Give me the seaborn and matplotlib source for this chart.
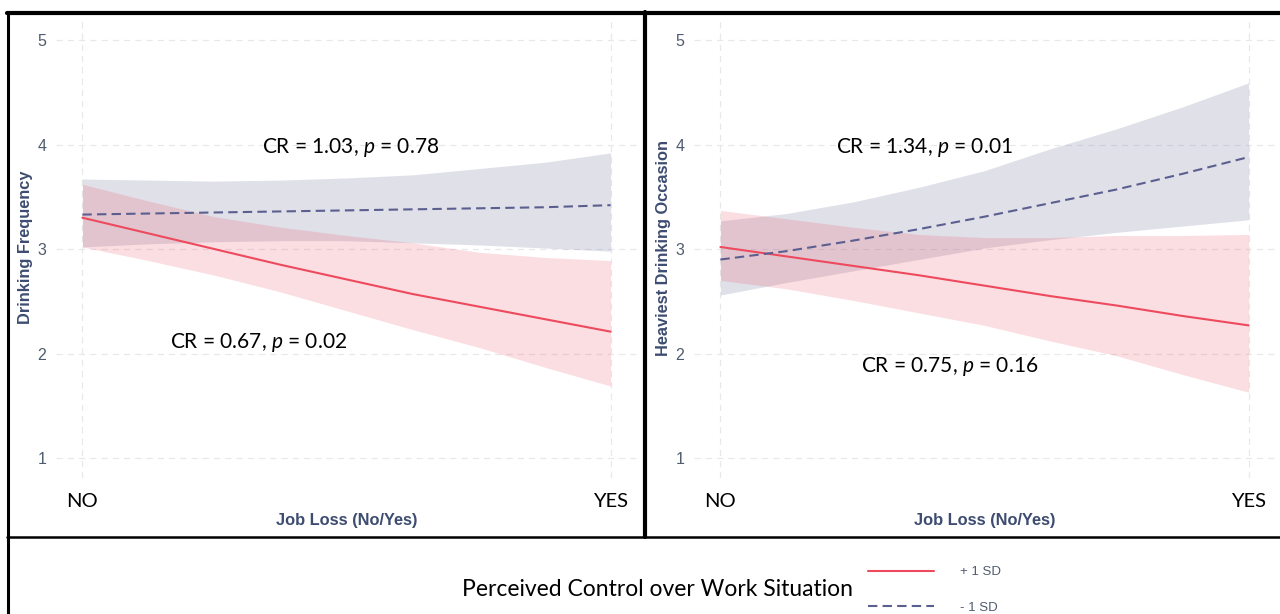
import matplotlib
matplotlib.use("Agg")
import matplotlib.pyplot as plt
from matplotlib.lines import Line2D
import numpy as np
import pandas as pd
import seaborn as sns

# --- data (x: 0 = NO job loss, 1 = YES) ---
job_loss = [0.0, 0.125, 0.25, 0.375, 0.5, 0.625, 0.75, 0.875, 1.0]
x_ticks = [0, 1]
x_ticklabels = ["NO", "YES"]
y_ticks = [1, 2, 3, 4, 5]
groups = ["+ 1 SD", "- 1 SD"]

# Drinking Frequency
freq_hi_mean = [3.30, 3.15, 3.00, 2.85, 2.71, 2.57, 2.45, 2.33, 2.21]
freq_hi_low = [3.02, 2.89, 2.75, 2.59, 2.41, 2.23, 2.06, 1.87, 1.69]
freq_hi_up = [3.62, 3.46, 3.31, 3.21, 3.13, 3.06, 2.97, 2.92, 2.89]
freq_lo_mean = [3.33, 3.34, 3.35, 3.36, 3.37, 3.38, 3.39, 3.40, 3.42]
freq_lo_low = [3.02, 3.05, 3.07, 3.08, 3.08, 3.06, 3.04, 3.01, 2.98]
freq_lo_up = [3.67, 3.66, 3.65, 3.66, 3.68, 3.71, 3.77, 3.83, 3.92]

# Heaviest Drinking Occasion
heavy_hi_mean = [3.02, 2.93, 2.84, 2.75, 2.65, 2.55, 2.46, 2.36, 2.27]
heavy_hi_low = [2.70, 2.62, 2.51, 2.39, 2.27, 2.12, 1.98, 1.80, 1.63]
heavy_hi_up = [3.37, 3.29, 3.21, 3.14, 3.11, 3.11, 3.13, 3.13, 3.14]
heavy_lo_mean = [2.90, 2.98, 3.08, 3.19, 3.31, 3.44, 3.57, 3.72, 3.88]
heavy_lo_low = [2.56, 2.68, 2.79, 2.90, 3.01, 3.09, 3.16, 3.22, 3.28]
heavy_lo_up = [3.27, 3.34, 3.45, 3.59, 3.75, 3.96, 4.15, 4.36, 4.59]

freq_notes = [("CR = 1.03, $\\it{p}$ = 0.78", 0.507, 3.97),
              ("CR = 0.67, $\\it{p}$ = 0.02", 0.333, 2.11)]
heavy_notes = [("CR = 1.34, $\\it{p}$ = 0.01", 0.386, 3.97),
               ("CR = 0.75, $\\it{p}$ = 0.16", 0.435, 1.88)]

RED = "#EE4A5E"
BLUE = "#5B5F8F"
LABEL_COL = "#3D4C70"
TICK_COL = "#4F5B6E"

sns.set_theme(style="white")
plt.rcParams["font.family"] = ["Lato", "DejaVu Sans"]
plt.rcParams["mathtext.fontset"] = "custom"
plt.rcParams["mathtext.it"] = "Lato:italic"
plt.rcParams["mathtext.rm"] = "Lato"

W, H = 1280, 614
fig = plt.figure(figsize=(W / 100, H / 100), dpi=100)


def px_axes(x0, x1, y0, y1):
    return fig.add_axes([x0 / W, 1 - y1 / H, (x1 - x0) / W, (y1 - y0) / H])


def draw_panel(ax, hi, lo, notes, ylabel):
    hi_mean, hi_low, hi_up = hi
    lo_mean, lo_low, lo_up = lo
    ax.fill_between(job_loss, lo_low, lo_up, color=BLUE, alpha=0.19, lw=0)
    ax.fill_between(job_loss, hi_low, hi_up, color=RED, alpha=0.18, lw=0)
    df = pd.DataFrame({
        "x": job_loss * 2,
        "y": hi_mean + lo_mean,
        "grp": [groups[0]] * len(job_loss) + [groups[1]] * len(job_loss),
    })
    sns.lineplot(data=df, x="x", y="y", hue="grp", style="grp", ax=ax,
                 palette={groups[0]: RED, groups[1]: BLUE},
                 dashes={groups[0]: "", groups[1]: (4.5, 2.5)},
                 linewidth=1.5, legend=True)
    handles, labels = ax.get_legend_handles_labels()
    ax.get_legend().remove()

    for txt, x, y in notes:
        ax.text(x, y, txt, ha="center", va="center", fontsize=15, color="black")

    ax.set_xlim(-0.05, 1.05)
    ax.set_ylim(0.81, 5.22)
    ax.set_xticks(x_ticks)
    ax.set_xticklabels(x_ticklabels, fontsize=14.5, color="black")
    ax.set_yticks(y_ticks)
    ax.set_yticklabels([str(v) for v in y_ticks], fontsize=11.5, color=TICK_COL,
                       family="Liberation Sans")
    ax.tick_params(axis="x", pad=11, length=0)
    ax.tick_params(axis="y", pad=7, length=0)
    ax.grid(True, color="#E8E8E8", linestyle=(0, (5, 4)), linewidth=0.9)
    for s in ax.spines.values():
        s.set_visible(False)
    ax.set_xlabel("Job Loss (No/Yes)", fontsize=11.8, fontweight="bold",
                  color=LABEL_COL, family="Liberation Sans", labelpad=2)
    ax.set_ylabel(ylabel, fontsize=11.8, fontweight="bold",
                  color=LABEL_COL, family="Liberation Sans", labelpad=3)
    return handles, labels


ax1 = px_axes(56, 637, 17, 478)
ax2 = px_axes(694, 1275, 17, 478)
handles, labels = draw_panel(ax1, (freq_hi_mean, freq_hi_low, freq_hi_up),
                             (freq_lo_mean, freq_lo_low, freq_lo_up),
                             freq_notes, "Drinking Frequency")
draw_panel(ax2, (heavy_hi_mean, heavy_hi_low, heavy_hi_up),
           (heavy_lo_mean, heavy_lo_low, heavy_lo_up),
           heavy_notes, "Heaviest Drinking Occasion")


# black frames round the panels and the legend box
def px_line(xs, ys, lw):
    fig.add_artist(Line2D([x / W for x in xs], [1 - y / H for y in ys],
                          color="black", lw=lw, transform=fig.transFigure))


px_line([7, W], [13, 13], 3)
px_line([8, 8], [12, 614], 2.2)
px_line([645, 645], [12, 537], 3)
px_line([7, W], [537, 537], 1.8)

# legend
fig.text(657 / W, 1 - 589 / H, "Perceived Control over Work Situation",
         ha="center", va="center", fontsize=16.5, color="black")
leg = fig.legend(handles, labels, loc="center left",
                 bbox_to_anchor=(856 / W, 1 - 590 / H), frameon=False,
                 handlelength=5.0, handletextpad=2.0, labelspacing=1.75,
                 prop={"family": "Liberation Sans", "size": 9.5})
for t in leg.get_texts():
    t.set_color(TICK_COL)

fig.savefig("out.png", dpi=100)
